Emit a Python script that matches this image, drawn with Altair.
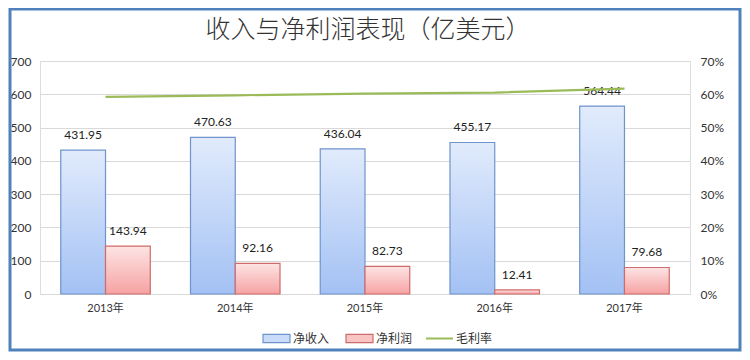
import altair as alt
import pandas as pd

title_text = "收入与净利润表现（亿美元）"
years = ["2013年", "2014年", "2015年", "2016年", "2017年"]
revenue = [431.95, 470.63, 436.04, 455.17, 564.44]
net_profit = [143.94, 92.16, 82.73, 12.41, 79.68]
gross_margin = [0.592, 0.597, 0.602, 0.605, 0.617]
series_names = ["净收入", "净利润", "毛利率"]

rev_df = pd.DataFrame({"year": years, "value": revenue, "series": series_names[0]})
np_df = pd.DataFrame({"year": years, "value": net_profit, "series": series_names[1]})
gm_df = pd.DataFrame({"year": years, "value": gross_margin, "series": series_names[2]})
bars_df = pd.concat([rev_df, np_df], ignore_index=True)
title_df = pd.DataFrame({"title": [title_text]})

FONT = "Lato, Noto Sans CJK SC, sans-serif"
W, H = 650, 233
PAD = {"left": 32, "top": 53, "right": 52, "bottom": 58}

grad_blue = {"gradient": "linear", "x1": 0, "y1": 0, "x2": 0, "y2": 1,
             "stops": [{"offset": 0, "color": "#e1ebfc"}, {"offset": 1, "color": "#a3c1f4"}]}
grad_red = {"gradient": "linear", "x1": 0, "y1": 0, "x2": 0, "y2": 1,
            "stops": [{"offset": 0, "color": "#fde4e4"}, {"offset": 1, "color": "#f6a2a2"}]}

x_enc = alt.X("year:N", sort=years, title=None,
              scale=alt.Scale(paddingInner=0.31, paddingOuter=0.16),
              axis=alt.Axis(labelAngle=0, ticks=False, domain=False, labelPadding=8,
                            labelFontSize=11, labelColor="#333333", labelFont=FONT))
xoff = alt.XOffset("series:N", sort=series_names[:2],
                   scale=alt.Scale(domain=series_names[:2], paddingInner=0, paddingOuter=0))
y_left = alt.Y("value:Q", title=None,
               scale=alt.Scale(domain=[0, 700]),
               axis=alt.Axis(values=list(range(0, 701, 100)), ticks=False, domain=False,
                             labelOverlap=False, labelPadding=9, labelFontSize=12,
                             labelColor="#333333", labelFont=FONT, gridColor="#d9d9d9"))

def bar_layer(df, grad, stroke):
    base = alt.Chart(df).encode(x=x_enc, xOffset=xoff, y=y_left)
    bars = base.mark_bar(fill=grad, stroke=stroke, strokeWidth=1.2)
    labels = base.mark_text(baseline="bottom", dy=-8, fontSize=12, font=FONT,
                            color="#222222").encode(text=alt.Text("value:Q", format=".2f"))
    return bars, labels

b1, t1 = bar_layer(rev_df, grad_blue, "#6f94cc")
b2, t2 = bar_layer(np_df, grad_red, "#cf6b6b")

bar_legend = alt.Legend(orient="none", legendX=222, legendY=263, direction="horizontal",
                        title=None, symbolType="M-1,-0.3H1V0.3H-1Z", symbolSize=729,
                        symbolStrokeWidth=1.2, symbolOpacity=1,
                        labelFontSize=12, labelFont=FONT, labelColor="#333333",
                        labelOffset=2, columnPadding=13)

legend_dummy = alt.Chart(bars_df).mark_point(size=0, filled=True, strokeWidth=0).encode(
    x=alt.X("year:N", sort=years), xOffset=xoff, y=y_left,
    fill=alt.Fill("series:N", scale=alt.Scale(domain=series_names[:2], range=["#c9dbf8", "#f8c4c4"]),
                  legend=bar_legend),
    stroke=alt.Stroke("series:N", scale=alt.Scale(domain=series_names[:2], range=["#6f94cc", "#cf6b6b"]),
                      legend=bar_legend),
)

bars_layer = alt.layer(b1, b2, t1, t2, legend_dummy)

line = alt.Chart(gm_df).mark_line(strokeWidth=2.2).encode(
    x=alt.X("year:N", sort=years),
    y=alt.Y("value:Q", title=None, scale=alt.Scale(domain=[0, 0.7]),
            axis=alt.Axis(orient="right", format=".0%", values=[i / 10 for i in range(8)],
                          ticks=False, domain=False, grid=False, labelPadding=10,
                          labelOverlap=False, labelFontSize=12, labelColor="#333333",
                          labelFont=FONT)),
    color=alt.Color("series:N", title=None,
                    scale=alt.Scale(domain=series_names[2:], range=["#9bbb59"]),
                    legend=alt.Legend(orient="none", legendX=385, legendY=263, direction="horizontal",
                                      symbolType="M-1,0H1", symbolSize=729, symbolStrokeWidth=2,
                                      labelFontSize=12, labelFont=FONT,
                                      labelColor="#333333", labelOffset=2)),
)

frame = alt.Chart(title_df).mark_rect(fill=None, stroke="#4f81bd", strokeWidth=3).encode(
    x=alt.value(-30), x2=alt.value(W + 50), y=alt.value(-52), y2=alt.value(H + 56)
)

title_mark = alt.Chart(title_df).mark_text(
    fontSize=25, font="Noto Sans CJK SC", fontWeight=300, color="#333333",
    align="center", baseline="middle"
).encode(text="title:N", x=alt.value(W / 2 + 3), y=alt.value(-31))

chart = alt.layer(bars_layer, line, frame, title_mark).resolve_scale(y="independent").properties(
    width=W, height=H, padding=PAD, autosize=alt.AutoSizeParams(type="none"),
).configure_view(stroke=None).configure(background="white")

chart.save("out.html", embed_options={"renderer": "svg", "actions": False})
